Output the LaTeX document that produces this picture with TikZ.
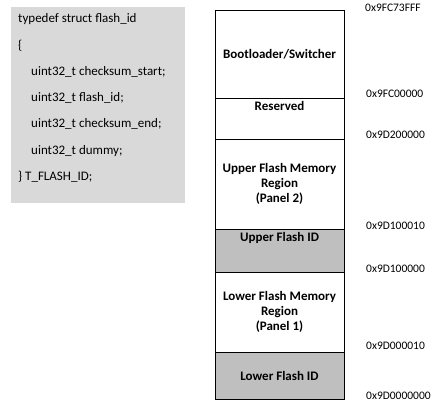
\documentclass[tikz,border=0pt]{standalone}
\usepackage{fontspec}
\setmainfont{Carlito}
\usepackage{tikz}
\usetikzlibrary{positioning}
\definecolor{codegray}{RGB}{217,217,217}
\definecolor{idgray}{RGB}{191,191,191}

\begin{document}
\begin{tikzpicture}[
    x=1pt, y=-1pt,
    region/.style={rectangle, draw=black, line width=0.8pt, fill=white,
                   inner sep=0pt, outer sep=0pt, minimum width=129pt,
                   align=center, font=\fontsize{13}{15}\selectfont\bfseries},
    idregion/.style={region, fill=idgray},
    tag/.style={anchor=base, inner sep=0pt, font=\fontsize{13}{15}\selectfont\bfseries},
    addr/.style={anchor=base west, inner sep=0pt, font=\fontsize{11.5}{13}\selectfont},
    code/.style={anchor=base west, inner sep=0pt, font=\fontsize{13}{15}\selectfont}
  ]
  \useasboundingbox (0,0) rectangle (442,412);
  %% struct definition
  \node[rectangle, fill=codegray, inner sep=0pt, minimum width=174pt,
        minimum height=196pt, anchor=north west] (codebox) at (11,7) {};
  \node[code] (c1) at (18,23)  {typedef struct flash\_id};
  \node[code] (c2) at (18,50)  {\{};
  \node[code] (c3) at (31,76)  {uint32\_t checksum\_start;};
  \node[code] (c4) at (31,102) {uint32\_t flash\_id;};
  \node[code] (c5) at (31,128) {uint32\_t checksum\_end;};
  \node[code] (c6) at (31,154) {uint32\_t dummy;};
  \node[code] (c7) at (18,180) {\} T\_FLASH\_ID;};
  %% memory map
  \node[region, minimum height=88pt, anchor=north west] (boot) at (215,10)
      {Bootloader/Switcher};
  \node[region, minimum height=41pt, below=0pt of boot] (res) {};
  \node[region, minimum height=90pt, below=0pt of res] (upper)
      {Upper Flash Memory\\Region\\(Panel 2)};
  \node[idregion, minimum height=43pt, below=0pt of upper] (upperid) {};
  \node[region, minimum height=80pt, below=0pt of upperid] (lower)
      {Lower Flash Memory\\Region\\(Panel 1)};
  \node[idregion, minimum height=47pt, below=0pt of lower] (lowerid)
      {Lower Flash ID};
  \node[tag] (resT) at ([yshift=-12.5pt]res.north) {Reserved};
  \node[tag] (upperidT) at ([yshift=-12.5pt]upperid.north) {Upper Flash ID};
  %% addresses
  \node[addr] (a0) at ([xshift=21pt, yshift=-2pt]boot.north east) {0x9FC73FFF};
  \node[addr] (a1) at ([xshift=22pt]boot.south east) {0x9FC00000};
  \node[addr] (a2) at ([xshift=22pt]res.south east) {0x9D200000};
  \node[addr] (a3) at ([xshift=22pt]upper.south east) {0x9D100010};
  \node[addr] (a4) at ([xshift=22pt]upperid.south east) {0x9D100000};
  \node[addr] (a5) at ([xshift=22pt, yshift=3pt]lower.south east) {0x9D000010};
  \node[addr] (a6) at ([xshift=22pt]lowerid.south east) {0x9D0000000};
\end{tikzpicture}
\end{document}
